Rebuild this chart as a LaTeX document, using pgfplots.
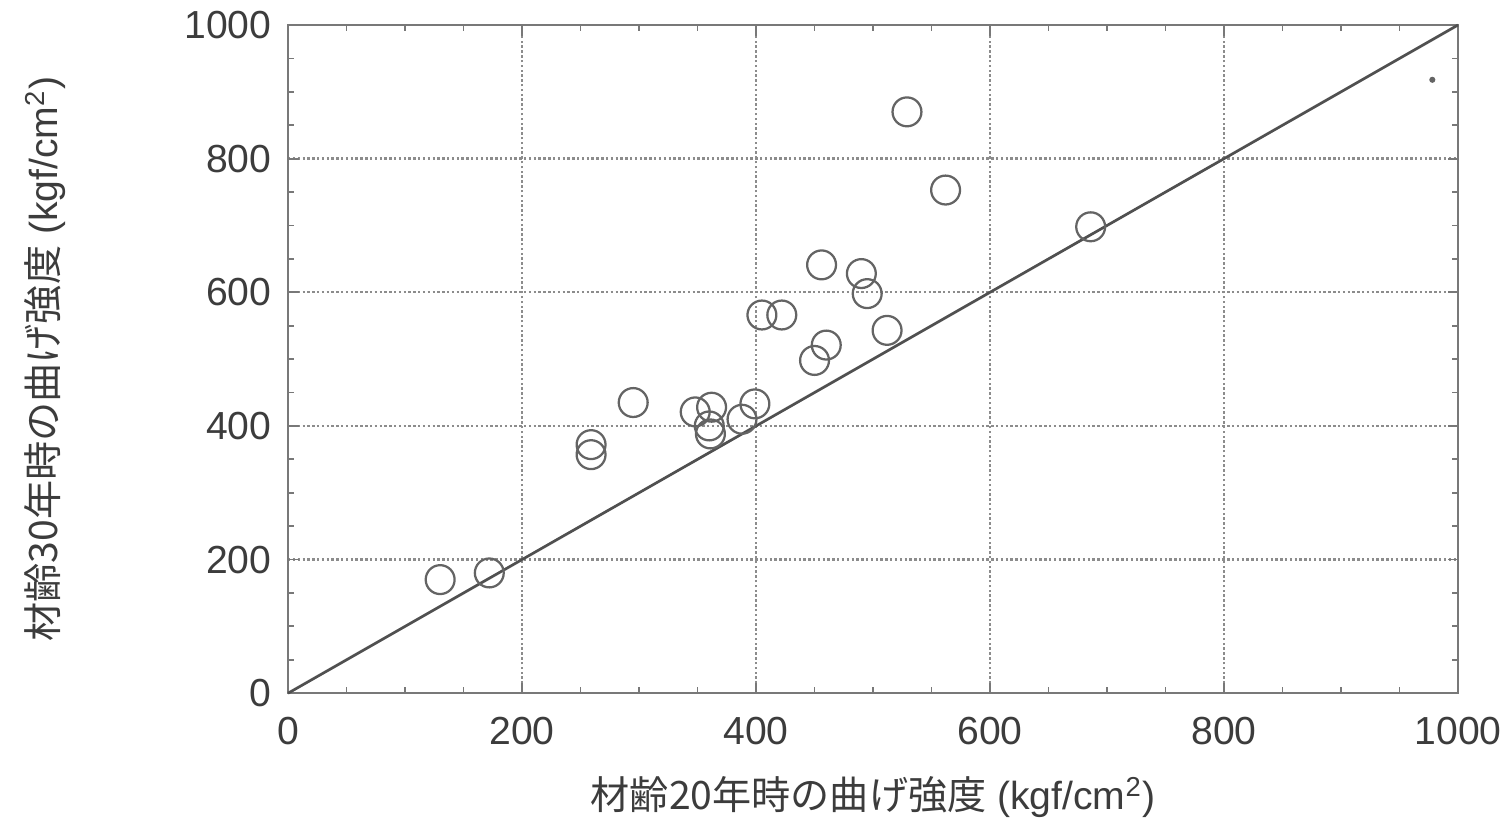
\documentclass[border=0pt]{standalone}
\usepackage{pgfplots}
\pgfplotsset{compat=1.18}
\usepackage{fontspec}
\setmainfont{Liberation Sans}
\newfontfamily\cjk{Noto Sans CJK JP}
\definecolor{framegray}{RGB}{120,120,120}
\definecolor{gridgray}{RGB}{140,140,140}
\definecolor{markgray}{RGB}{100,100,100}
\definecolor{textgray}{RGB}{60,60,60}
\begin{document}
\begin{tikzpicture}
\begin{axis}[
  scale only axis,
  width=388.7pt, height=222pt,
  xmin=0, xmax=1000, ymin=0, ymax=1000,
  xtick={0,200,400,600,800,1000},
  ytick={0,200,400,600,800,1000},
  minor tick num=3,
  tick align=inside,
  major tick length=3.5pt,
  minor tick length=2pt,
  axis line style={framegray, line width=0.8pt},
  every tick/.style={framegray, line width=0.6pt},
  grid=major,
  major grid style={gridgray, dash pattern=on 0.8pt off 0.8pt, line width=0.8pt},
  /pgf/number format/assume math mode=true,
  /pgf/number format/1000 sep={},
  tick label style={font=\fontsize{13}{15}\selectfont, textgray},
  xticklabel style={yshift=-4.5pt},
  yticklabel style={xshift=-2pt},
  xlabel={{\cjk 材齢20年時の曲げ強度} (kgf/cm\textsuperscript{2})},
  ylabel={{\cjk 材齢30年時の曲げ強度} (kgf/cm\textsuperscript{2})},
  label style={font=\fontsize{13}{15}\selectfont, textgray},
  xlabel style={at={(axis description cs:0.5,-0.156)}, anchor=center},
  ylabel style={at={(axis description cs:-0.2076,0.5)}, anchor=center},
  clip=false,
]
\addplot[color=textgray!90, line width=0.9pt] coordinates {(0,0) (1000,1000)};
\addplot[only marks, mark=o, mark size=4.8pt, mark options={markgray, line width=0.75pt}] coordinates {
(130,170) (172,180) (259,372) (259,357) (295,435) (348,421) (362,428)
(360,400) (361,388) (388,410) (399,433) (405,566) (422,566) (450,498)
(460,521) (456,641) (490,628) (495,598) (512,543) (529,870) (562,753)
(686,698)
};
\addplot[only marks, mark=*, mark size=0.8pt, mark options={markgray}] coordinates {(978,918)};
\end{axis}
\pgfresetboundingbox
\path[use as bounding box] (-95.7pt,-41.2pt) rectangle (404.3pt,230.3pt);
\end{tikzpicture}
\end{document}
